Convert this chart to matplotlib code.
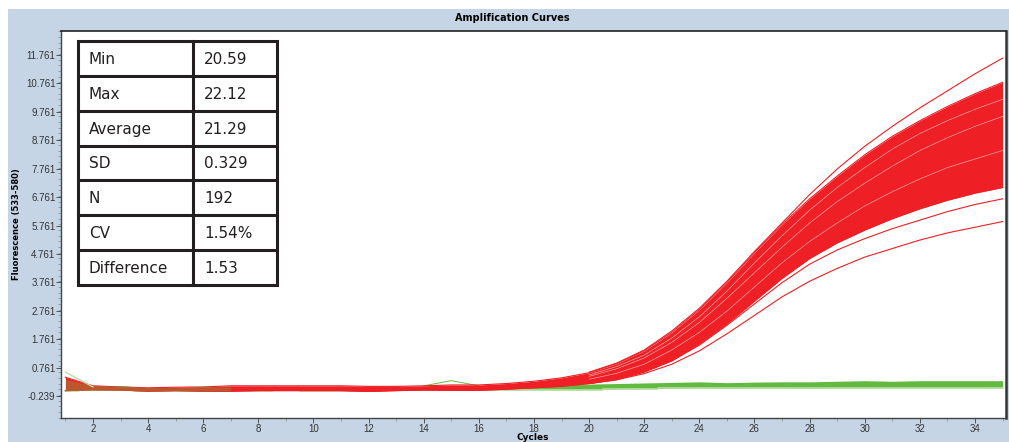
import matplotlib.pyplot as plt
import numpy as np
from matplotlib.patches import Rectangle
from matplotlib.ticker import FixedLocator, MultipleLocator

# cycle numbers 1..35
cycles = list(range(1, 36))

# dense red band (lower / upper edge)
red_low = [-0.05, -0.02, -0.03, -0.07, -0.05, -0.07, -0.07, -0.05, -0.05, -0.05,
           -0.05, -0.08, -0.05, -0.03, -0.04, -0.04, 0.0, 0.05, 0.1, 0.2,
           0.35, 0.62, 1.0, 1.6, 2.3, 3.1, 3.9, 4.6, 5.15, 5.6,
           6.0, 6.35, 6.65, 6.9, 7.1]
red_high = [0.42, 0.12, 0.08, 0.05, 0.07, 0.08, 0.12, 0.12, 0.12, 0.12,
            0.12, 0.1, 0.1, 0.12, 0.15, 0.15, 0.2, 0.28, 0.4, 0.58,
            0.9, 1.35, 2.0, 2.8, 3.75, 4.8, 5.8, 6.7, 7.5, 8.25,
            8.9, 9.45, 9.95, 10.4, 10.8]

# single red curves standing out of the band (cycles 20..35)
late_cycles = list(range(20, 36))
red_top = [0.6, 0.92, 1.38, 2.05, 2.85, 3.8, 4.85, 5.85, 6.85, 7.75, 8.55, 9.25, 9.9, 10.5, 11.1, 11.65]
red_low1 = [0.2, 0.33, 0.55, 0.88, 1.35, 1.95, 2.6, 3.25, 3.8, 4.25, 4.65, 4.95, 5.25, 5.5, 5.7, 5.9]
red_low2 = [0.2, 0.34, 0.6, 1.0, 1.55, 2.25, 3.0, 3.75, 4.4, 4.9, 5.3, 5.65, 5.95, 6.25, 6.5, 6.7]
red_mid1 = [0.45, 0.72, 1.1, 1.65, 2.35, 3.2, 4.1, 5.0, 5.85, 6.6, 7.25, 7.85, 8.4, 8.85, 9.25, 9.6]
red_mid2 = [0.35, 0.56, 0.88, 1.38, 2.0, 2.75, 3.6, 4.45, 5.2, 5.85, 6.45, 6.95, 7.4, 7.8, 8.1, 8.4]
red_mid3 = [0.5, 0.8, 1.2, 1.8, 2.55, 3.45, 4.45, 5.4, 6.3, 7.1, 7.8, 8.45, 9.0, 9.45, 9.85, 10.2]

# green (negative) band
green_low = [-0.05, -0.04, -0.04, -0.06, -0.05, -0.06, -0.05, -0.05, -0.04, -0.05,
             -0.05, -0.05, -0.04, -0.04, -0.04, -0.03, -0.03, -0.02, -0.02, -0.02,
             0.0, 0.02, 0.03, 0.04, 0.03, 0.04, 0.04, 0.03, 0.04, 0.04,
             0.05, 0.05, 0.05, 0.05, 0.05]
green_high = [0.35, 0.12, 0.12, 0.06, 0.05, 0.1, 0.08, 0.08, 0.07, 0.07,
              0.08, 0.08, 0.08, 0.1, 0.12, 0.1, 0.12, 0.14, 0.16, 0.18,
              0.2, 0.22, 0.24, 0.26, 0.23, 0.25, 0.26, 0.26, 0.28, 0.3,
              0.28, 0.3, 0.3, 0.3, 0.3]
# the one green curve starting high at cycle 1
green_start = [0.6, 0.08]
# green hump around cycle 15
hump_cycles = [14, 15, 16]
green_hump = [0.12, 0.3, 0.12]

ytick_vals = [-0.239, 0.761, 1.761, 2.761, 3.761, 4.761, 5.761, 6.761,
              7.761, 8.761, 9.761, 10.761, 11.761]
xtick_vals = [2, 4, 6, 8, 10, 12, 14, 16, 18, 20, 22, 24, 26, 28, 30, 32, 34]

stat_names = ['Min', 'Max', 'Average', 'SD', 'N', 'CV', 'Difference']
stat_values = ['20.59', '22.12', '21.29', '0.329', '192', '1.54%', '1.53']

RED = '#ee1f25'
PINK = '#f7a3a3'
GREEN = '#62ba40'
LGREEN = '#b9dfa6'
BG = '#c5d5e5'

W, H = 1009, 442
fig = plt.figure(figsize=(W / 100, H / 100), dpi=100)
fig.patches.append(Rectangle((8 / W, 0), 1, (H - 9) / H, transform=fig.transFigure,
                             facecolor=BG, edgecolor='none', zorder=-5))

ax = fig.add_axes([61 / W, 24 / H, 945 / W, 387 / H])
ax.set_facecolor('white')

# green band
ax.fill_between(cycles, green_low, green_high, color=GREEN, lw=0, zorder=2)
ax.step(cycles, green_low, where='mid', color=LGREEN, lw=1.2, zorder=2)

# red band and outlier curves
ax.fill_between(cycles, red_low, red_high, color=RED, lw=0, zorder=3)
ax.plot(cycles, red_low, color=RED, lw=0.8, zorder=3)
ax.plot(cycles, red_high, color=RED, lw=0.8, zorder=3)
for ys in (red_mid1, red_mid2, red_mid3):
    ax.plot(late_cycles, ys, color=PINK, lw=0.5, zorder=4)
for ys in (red_top, red_low1, red_low2):
    ax.plot(late_cycles, ys, color=RED, lw=0.8, zorder=4)

# green mixed into the baseline
n = 7
ax.fill_between(cycles[:n], green_low[:n], green_high[:n],
                color=GREEN, alpha=0.35, lw=0, zorder=5)
ax.plot(cycles[:2], green_start, color=LGREEN, lw=1.0, zorder=5)
ax.plot(hump_cycles, green_hump, color=GREEN, lw=0.7, zorder=2)

ax.set_xlim(0.839, 35.125)
ax.set_ylim(-1.013, 12.606)
ax.yaxis.set_major_locator(FixedLocator(ytick_vals))
ax.set_yticklabels(['%.3f' % v for v in ytick_vals])
ax.yaxis.set_minor_locator(MultipleLocator(0.2))
ax.xaxis.set_major_locator(FixedLocator(xtick_vals))
ax.xaxis.set_minor_locator(MultipleLocator(1))
ax.tick_params(which='major', length=3.5, width=0.7, color='#555555', labelsize=7,
               labelcolor='#333333', pad=0.5)
ax.tick_params(which='minor', length=2, width=0.5, color='#888888')
for lab in ax.get_xticklabels() + ax.get_yticklabels():
    lab.set_fontfamily('Liberation Sans')
for side in ('left', 'bottom'):
    ax.spines[side].set_color('#444444')
    ax.spines[side].set_linewidth(1.0)
ax.spines['top'].set_color('#222222')
ax.spines['top'].set_linewidth(1.2)
ax.spines['right'].set_color('#333333')
ax.spines['right'].set_linewidth(1.8)

fig.text(17 / W, 1 - 224 / H, 'Fluorescence (533-580)', rotation=90, ha='center',
         va='center', fontsize=6, fontweight='bold')
fig.text(533 / W, 0, 'Cycles', ha='center', va='bottom',
         fontsize=6.5, fontweight='bold')
fig.text(0.508, 1 - 18 / H, 'Amplification Curves', ha='center', va='center',
         fontsize=7, fontweight='bold')

# statistics table drawn in pixel coordinates
tab = fig.add_axes([0, 0, 1, 1], zorder=10)
tab.set_xlim(0, W)
tab.set_ylim(H, 0)
tab.axis('off')
tx0, ty0, tw, th, split = 78, 41, 199, 244, 193
rh = th / len(stat_names)
tab.add_patch(Rectangle((tx0, ty0), tw, th, facecolor='white', edgecolor='#231f20', lw=2.2))
tab.plot([split, split], [ty0, ty0 + th], color='#231f20', lw=2.2)
for i, (name, val) in enumerate(zip(stat_names, stat_values)):
    yc = ty0 + rh * (i + 0.5)
    if i > 0:
        tab.plot([tx0, tx0 + tw], [ty0 + rh * i] * 2, color='#231f20', lw=2.2)
    tab.text(89, yc + 1, name, fontsize=11, va='center', ha='left', color='#231f20')
    tab.text(204, yc + 1, val, fontsize=11, va='center', ha='left', color='#231f20')

fig.savefig('out.png', dpi=100)
